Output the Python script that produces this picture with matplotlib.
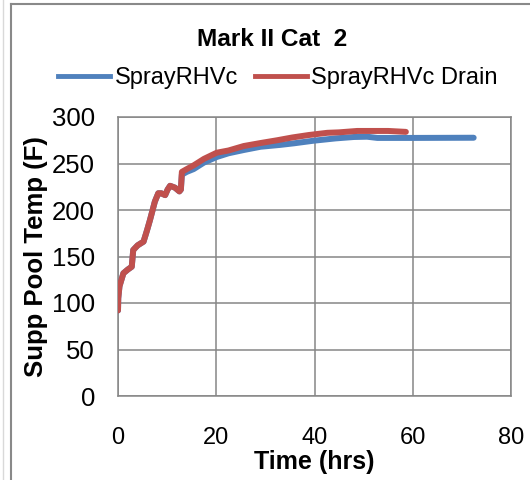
import matplotlib
matplotlib.use("Agg")
import matplotlib.pyplot as plt
from matplotlib.lines import Line2D

plt.rcParams['font.family'] = ['Liberation Sans', 'DejaVu Sans']

# values
t_early = [0, 0.05, 0.3, 1.1, 2.0, 2.8, 3.1, 4.0, 5.2, 5.9, 6.5, 7.5, 8.2, 8.8,
           9.6, 10.1, 10.6, 11.6, 12.5, 12.8]
temp_early = [92, 105, 118, 132, 136, 139, 157, 162, 166, 178, 189, 209, 218, 218,
              216, 222, 226, 224, 220, 222]

t_blue_late = [13.0, 14.0, 15.4, 17.5, 20.1, 22.5, 25.6, 29.0, 33.0, 35.8, 39.8,
               44.3, 48.0, 50.7, 52.8, 60.0, 72.4]
temp_blue_late = [238, 241, 244, 251, 257, 261, 264.5, 268, 270, 271.7, 274.5,
                  277, 278.5, 278.8, 277.5, 277.5, 277.7]

t_red_late = [13.0, 14.0, 15.4, 17.5, 20.1, 22.5, 25.6, 29.0, 32.4, 35.5, 38.8,
              42.6, 45.0, 48.7, 52.0, 55.0, 58.6]
temp_red_late = [241, 244, 248, 255, 261.6, 264, 268.8, 272, 275, 278, 280.6,
                 283, 283.5, 285, 285, 285, 284]

t_blue = t_early + t_blue_late
temp_blue = temp_early + temp_blue_late
t_red = t_early + t_red_late
temp_red = temp_early + temp_red_late

blue = '#4F81BD'
red = '#C0504D'
grid_col = '#868686'

fig = plt.figure(figsize=(5.3, 4.8), dpi=100)
ax = fig.add_axes([118/530, 1 - 396/480, (511 - 118)/530, (396 - 117)/480])

ax.plot(t_blue, temp_blue, color=blue, lw=4.3, solid_capstyle='round', zorder=3)
ax.plot(t_red, temp_red, color=red, lw=4.3, solid_capstyle='round', zorder=4)

ax.set_xlim(0, 80)
ax.set_ylim(0, 300)
ax.set_xticks([0, 20, 40, 60, 80])
ax.set_yticks(range(0, 301, 50))
ax.grid(True, color=grid_col, lw=1.1)
ax.set_axisbelow(True)
for s in ax.spines.values():
    s.set_color(grid_col)
    s.set_linewidth(1.1)
ax.tick_params(axis='both', length=0)
ax.tick_params(axis='y', pad=16.5, labelsize=18.5)
ax.tick_params(axis='x', pad=22, labelsize=17)

ax.set_xlabel('Time (hrs)', fontsize=18, fontweight='bold', labelpad=1)
ax.set_ylabel('Supp Pool Temp (F)', fontsize=18.5, fontweight='bold', labelpad=3)

fig.text(272/530, 1 - 40/480, 'Mark II Cat  2', fontsize=17.6, fontweight='bold',
         ha='center', va='center')

handles = [Line2D([], [], color=blue, lw=3.5), Line2D([], [], color=red, lw=3.5)]
fig.legend(handles, ['SprayRHVc', 'SprayRHVc Drain'], ncol=2, frameon=False,
           fontsize=17, loc='center', bbox_to_anchor=(278/530, 1 - 78/480),
           handlelength=2.2, handletextpad=0.2, columnspacing=0.7)

# outer chart border
fig.add_artist(Line2D([11/530, 11/530], [0, 1 - 4/480], color='#898989', lw=1.5))
fig.add_artist(Line2D([11/530, 1], [1 - 4/480, 1 - 4/480], color='#898989', lw=1.5))
fig.add_artist(Line2D([3/530, 3/530], [0, 1], color='#d9d9d9', lw=1.0))

fig.savefig('out.png', dpi=100)
